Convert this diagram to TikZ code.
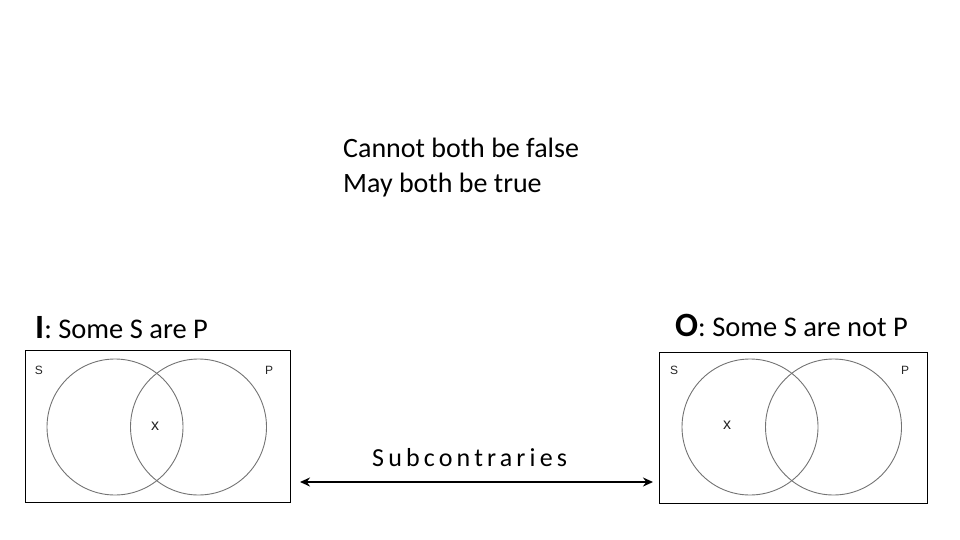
\documentclass[tikz,border=0pt]{standalone}
\usepackage{fontspec}
\setmainfont{Carlito}
\newfontfamily\spacedfont[LetterSpace=16]{Carlito}
\newfontfamily\labfont{Liberation Sans}
\usetikzlibrary{arrows.meta}
\tikzset{
  venn/.style={draw=black!55, line width=0.9pt},
  frame/.style={draw=black, line width=1pt, minimum width=265pt, minimum height=152pt, inner sep=0pt},
  lab/.style={font=\labfont\fontsize{12}{12}\selectfont, inner sep=0pt, text=black!85},
  xmark/.style={font=\labfont\fontsize{16}{16}\selectfont, inner sep=0pt, text=black!85},
  title/.style={anchor=base west, inner sep=0pt, font=\fontsize{28.5}{28.5}\selectfont},
  reltext/.style={anchor=base west, inner sep=0pt, font=\fontsize{28}{28}\selectfont},
}
\begin{document}
\begin{tikzpicture}[x=1pt,y=-1pt]
\useasboundingbox (0,0) rectangle (960,540);
% top text
\node[reltext] (rel) at (343,158) {Cannot both be false};
\node[reltext] (rel2) at (343,192) {May both be true};
% I box
\node[title] (tI) at (35,338) {{\bfseries\fontsize{34}{34}\selectfont I}: Some S are P};
\node[frame] (boxI) at (157.5,426) {};
\draw[venn] (115,427) circle (68);
\draw[venn] (198.5,427) circle (68);
\node[lab] (sI) at (39,370) {S};
\node[lab] (pI) at (269,370) {P};
\node[xmark] (xI) at (155,426) {x};
% O box
\node[title] (tO) at (675,336) {{\bfseries\fontsize{34}{34}\selectfont O}: Some S are not P};
\node[frame, minimum width=268pt, minimum height=151pt] (boxO) at (793,427.5) {};
\draw[venn] (750,427) circle (68);
\draw[venn] (833.5,427) circle (68);
\node[lab] (sO) at (674,370) {S};
\node[lab] (pO) at (905,370) {P};
\node[xmark] (xO) at (727,425) {x};
% arrow
\coordinate (aL) at (300,482);
\coordinate (aR) at (653,482);
\draw[line width=2.6pt, {Stealth[length=10pt,width=9pt]}-{Stealth[length=10pt,width=9pt]}] (aL) -- (aR);
\node[anchor=base west, inner sep=0pt, font=\spacedfont\fontsize{26}{26}\selectfont] (sub) at (372,466) {Subcontraries};
\end{tikzpicture}
\end{document}
